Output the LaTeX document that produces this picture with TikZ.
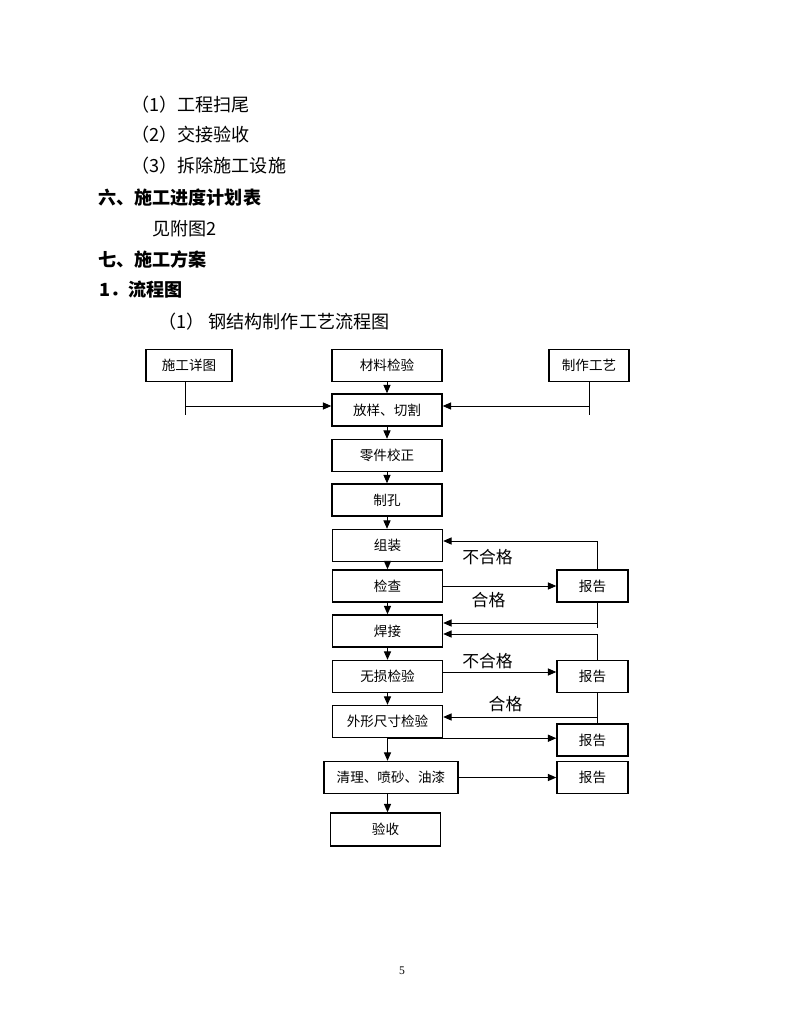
\documentclass[tikz,border=0pt]{standalone}
\usepackage{fontspec}
\setmainfont{Noto Sans CJK SC}
\newfontfamily\pagefont{Liberation Serif}
\usepackage{tikz}
\usetikzlibrary{arrows.meta,positioning}
\def\px{0.7734pt}

\begin{document}
\begin{tikzpicture}[x = 0.7734pt, y = -0.7734pt, >={Triangle[length=6.5pt,width=5.5pt]}]
	\tikzstyle{every node} = [inner sep = 0pt]
	\tikzstyle{stepbox} = [rectangle, draw = black, line width = 1.1pt, minimum height = 32*\px, font = \fontsize{10.5}{12}\selectfont]
	\tikzstyle{conn} = [draw, line width = 0.75pt]
	\tikzstyle{txt} = [anchor = west, font = \fontsize{14}{16}\selectfont]
	\tikzstyle{head} = [anchor = west, font = \fontsize{14}{16}\selectfont\bfseries]
	\tikzstyle{tag} = [font = \fontsize{13}{15}\selectfont]
\useasboundingbox[fill = white] (0,0) rectangle (791,1024);
% text above the chart
\node[txt] (t1) at (131, 105) {（1）工程扫尾};
\node[txt] (t2) at (131, 135) {（2）交接验收};
\node[txt] (t3) at (131, 166) {（3）拆除施工设施};
\node[head] (h6) at (98, 198) {六、施工进度计划表};
\node[txt] (t4) at (152, 229) {见附图2};
\node[head] (h7) at (98, 260) {七、施工方案};
\node[head] (h1) at (99, 290) {1．流程图};
\node[txt] (t5) at (158, 322) {（1） 钢结构制作工艺流程图};
% flow chart boxes
\node[stepbox, minimum width = 86*\px] (xiangtu) at (189, 365.5) {施工详图};
\node[stepbox, minimum width = 110*\px] (cailiao) at (387, 365.5) {材料检验};
\node[stepbox, minimum width = 80*\px] (gongyi) at (589, 365.5) {制作工艺};
\node[stepbox, minimum width = 110*\px] (fangyang) at (387, 410) {放样、切割};
\node[stepbox, minimum width = 110*\px] (lingjian) at (387, 455.5) {零件校正};
\node[stepbox, minimum width = 110*\px] (zhikong) at (387, 500) {制孔};
\node[stepbox, minimum width = 110*\px] (zuzhuang) at (387.5, 545.5) {组装};
\node[stepbox, minimum width = 110*\px] (jiancha) at (387.5, 586) {检查};
\node[stepbox, minimum width = 110*\px] (hanjie) at (387.5, 631) {焊接};
\node[stepbox, minimum width = 110*\px] (wusun) at (387.5, 676.5) {无损检验};
\node[stepbox, minimum width = 110*\px] (waixing) at (387.5, 721.5) {外形尺寸检验};
\node[stepbox, minimum width = 134*\px] (qingli) at (391, 777.5) {清理、喷砂、油漆};
\node[stepbox, minimum width = 110*\px, minimum height = 33*\px] (yanshou) at (385.5, 829.5) {验收};
\node[stepbox, minimum width = 71*\px] (baogaoA) at (592.5, 586) {报告};
\node[stepbox, minimum width = 71*\px] (baogaoB) at (592.5, 676.5) {报告};
\node[stepbox, minimum width = 71*\px] (baogaoC) at (592.5, 740) {报告};
\node[stepbox, minimum width = 71*\px] (baogaoD) at (592.5, 777.5) {报告};
% inputs to cutting
\coordinate (lend) at (185, 415);
\coordinate (ljoin) at (185, 406);
\coordinate (rend) at (589, 415);
\coordinate (rjoin) at (589, 406);
	\path[conn] (lend |- xiangtu.south) -- (lend);
	\path[conn, ->] (ljoin) -- (ljoin -| fangyang.west);
	\path[conn] (gongyi.south) -- (rend);
	\path[conn, ->] (rjoin) -- (rjoin -| fangyang.east);
% main column
	\path[conn, ->] (cailiao) -- (fangyang);
	\path[conn, ->] (fangyang) -- (lingjian);
	\path[conn, ->] (lingjian) -- (zhikong);
	\path[conn, ->] (zhikong.south) -- (zhikong.south |- zuzhuang.north);
	\path[conn, ->] (zuzhuang) -- (jiancha);
	\path[conn, ->] (jiancha) -- (hanjie);
	\path[conn, ->] (hanjie) -- (wusun);
	\path[conn, ->] (wusun) -- (waixing);
	\path[conn, ->] (waixing.south) -- (waixing.south |- qingli.north);
	\path[conn, ->] (qingli.south -| waixing.south) -- (yanshou.north -| waixing.south);
% to the reports
\coordinate (gb) at (442, 672);
	\path[conn, ->] (jiancha) -- (baogaoA);
	\path[conn, ->] (gb) -- (gb -| baogaoB.west);
	\path[conn, ->] (waixing.south) -- (waixing.south -| baogaoC.west);
	\path[conn, ->] (qingli) -- (baogaoD);
% back from the reports
\coordinate (fa) at (597, 541);
\coordinate (fb) at (597, 628);
\coordinate (fc) at (597, 623);
\coordinate (fd) at (597, 634);
\coordinate (fe) at (597, 717);
	\path[conn, ->] (fa) -- (fa -| zuzhuang.east);
	\path[conn] (fa) -- (fa |- baogaoA.north);
	\path[conn] (baogaoA.south -| fa) -- (fb);
	\path[conn, ->] (fc) -- (fc -| hanjie.east);
	\path[conn, ->] (fd) -- (fd -| hanjie.east);
	\path[conn] (fd) -- (fd |- baogaoB.north);
	\path[conn] (baogaoB.south -| fe) -- (fe |- baogaoC.north);
	\path[conn, ->] (fe) -- (fe -| waixing.east);
% labels
\node[tag] (bhg1) at (487.5, 557) {不合格};
\node[tag] (hg1) at (488.5, 600) {合格};
\node[tag] (bhg2) at (487.5, 661) {不合格};
\node[tag] (hg2) at (505.5, 704) {合格};
\node[font = \pagefont\fontsize{9}{10}\selectfont] (pnum) at (402, 971) {5};
	\end{tikzpicture}
\end{document}
